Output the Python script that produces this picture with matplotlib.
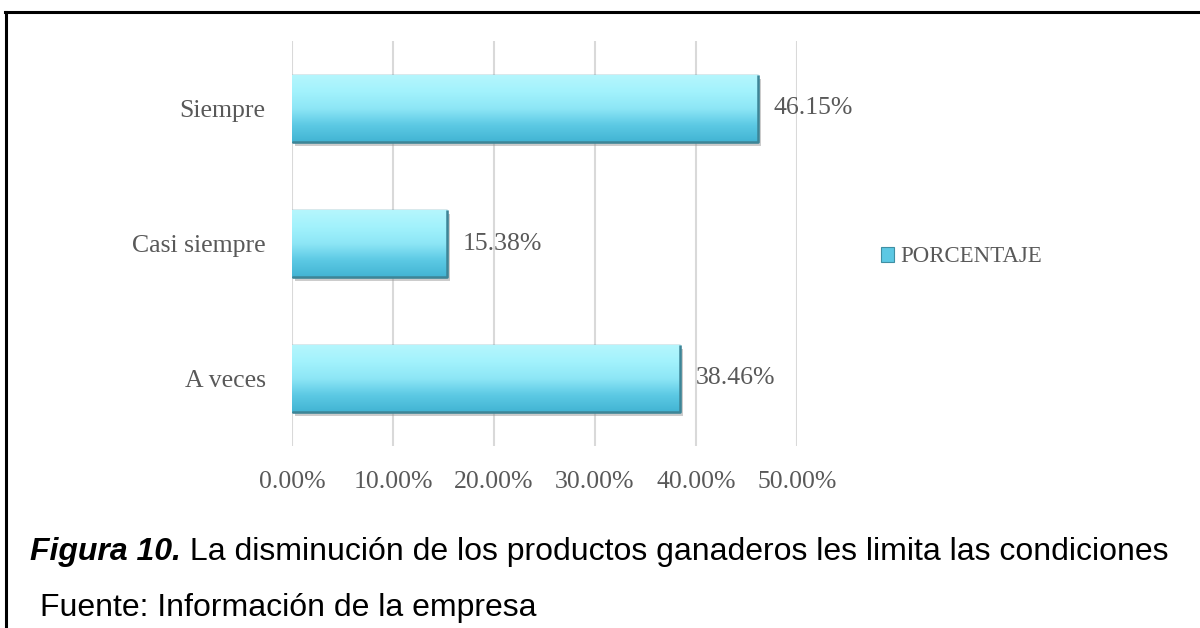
import numpy as np
import matplotlib
matplotlib.use("Agg")
import matplotlib.pyplot as plt
from matplotlib.patches import Patch
from matplotlib.lines import Line2D
import matplotlib.patheffects as pe
from matplotlib.colors import LinearSegmentedColormap

# Data
categories = ["A veces", "Casi siempre", "Siempre"]
values = [0.3846, 0.1538, 0.4615]
value_labels = ["38.46%", "15.38%", "46.15%"]
xticks = [0.0, 0.1, 0.2, 0.3, 0.4, 0.5]
xtick_labels = ["0.00%", "10.00%", "20.00%", "30.00%", "40.00%", "50.00%"]
series_name = "PORCENTAJE"
caption_bold = "Figura 10."
caption_rest = " La disminución de los productos ganaderos les limita las condiciones"
source_text = "Fuente: Información de la empresa"

TEXT_GREY = "#595959"
SERIF = "Liberation Serif"
SANS = "Liberation Sans"
FS = 18.5

fig = plt.figure(figsize=(12, 6.28), dpi=100)
W, H = 1200, 628

# outer frame (top and left lines only, rest runs off the page)
fig.add_artist(Line2D([5 / W, 1.0], [1 - 12 / H, 1 - 12 / H], color="black", lw=2.2,
                      transform=fig.transFigure))
fig.add_artist(Line2D([6 / W, 6 / W], [0.0, 1 - 12 / H], color="black", lw=2.2,
                      transform=fig.transFigure))

ax = fig.add_axes([292 / W, 1 - 446 / H, (797 - 292) / W, (446 - 41) / H])

bar_h = 0.495
bars = ax.barh(range(len(categories)), values, height=bar_h, color="#6fd6ec",
               edgecolor="#3f8fa3", linewidth=1.0, zorder=3)

# gradient fill + shadow to mimic the bevelled look
cmap = LinearSegmentedColormap.from_list("bevel", ["#42b4d3", "#5cc9e4", "#8de6f6", "#a2f2fc", "#b5f6fd"])
grad = np.linspace(0, 1, 256).reshape(-1, 1)
for b in bars:
    b.set_path_effects([pe.SimplePatchShadow(offset=(2, -3), shadow_rgbFace="#9a9a9a", alpha=0.5),
                        pe.Normal()])
    x0, y0 = b.get_x(), b.get_y()
    im = ax.imshow(grad, cmap=cmap, aspect="auto", origin="lower",
                   extent=[x0, x0 + b.get_width(), y0, y0 + b.get_height()], zorder=3.5)
    im.set_clip_path(b)
    # darker bottom/right edge
    ax.plot([x0, x0 + b.get_width(), x0 + b.get_width()],
            [y0, y0, y0 + b.get_height()], color="#3d8597", lw=1.8, zorder=4,
            solid_capstyle="butt")
ax.set_xlim(0, 0.5)
ax.set_ylim(-0.5, 2.5)

for i, (v, lab) in enumerate(zip(values, value_labels)):
    ax.annotate(lab, (v, i), xytext=(11, 0), textcoords="offset points",
                va="center", ha="left", fontsize=FS, family=SERIF, color=TEXT_GREY)

ax.set_xticks(xticks)
ax.set_xticklabels(xtick_labels, family=SERIF, fontsize=FS, color=TEXT_GREY)
ax.set_yticks(range(len(categories)))
ax.set_yticklabels(categories, family=SERIF, fontsize=FS, color=TEXT_GREY)
ax.tick_params(axis="x", length=0, pad=18)
ax.tick_params(axis="y", length=0, pad=19)
ax.grid(axis="x", color="#d9d9d9", lw=1.5, zorder=0)
for s in ax.spines.values():
    s.set_visible(False)

handle = Patch(facecolor="#5cc8e3", edgecolor="#3f8fa3", lw=0.8)
fig.legend([handle], [series_name], loc="center left", bbox_to_anchor=(860 / W, 1 - 257 / H),
           frameon=False, handlelength=0.6, handleheight=0.6, handletextpad=0.25,
           prop={"family": SERIF, "size": 16.5}, labelcolor=TEXT_GREY)

# caption
t1 = fig.text(30 / W, 1 - 560 / H, caption_bold, fontsize=23, family=SANS,
              fontweight="bold", fontstyle="italic", va="baseline", ha="left")
fig.canvas.draw()
bb = t1.get_window_extent()
fig.text(bb.x1 / W, 1 - 560 / H, caption_rest, fontsize=23, family=SANS,
         va="baseline", ha="left")
fig.text(40 / W, 1 - 616 / H, source_text, fontsize=23, family=SANS,
         va="baseline", ha="left")

fig.savefig("out.png", dpi=100)
